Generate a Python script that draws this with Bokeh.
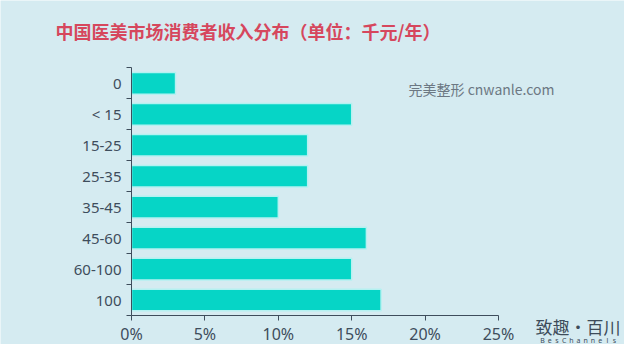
from bokeh.plotting import figure
from bokeh.models import Range1d, FixedTicker, NumeralTickFormatter, Label, ColumnDataSource
from bokeh.embed import file_html
from bokeh.resources import INLINE

categories = ["0", "< 15", "15-25", "25-35", "35-45", "45-60", "60-100", "100"]
shares = [0.03, 0.15, 0.12, 0.12, 0.10, 0.16, 0.15, 0.17]
x_ticks = [0, 0.05, 0.10, 0.15, 0.20, 0.25]
title_text = "中国医美市场消费者收入分布（单位：千元/年）"
watermark_text = "完美整形 cnwanle.com"
logo_text = "致趣·百川"
logo_sub = "BesChannels"

BG = "#D5EBF1"
AXIS = "#3E4D5C"
BAR = "#06D5C6"
BAR_EDGE = "#B4F1F1"

W, H = 624, 344
# plot area placement (pixels)
PX_LEFT, PX_RIGHT = 131, 498      # x = 0 and x = 25%
PX_TOP, PX_BOTTOM = 67.4, 315.0   # top of first band, bottom of last band
X_MAX = 0.25
n = len(categories)

px_per_x = (PX_RIGHT - PX_LEFT) / X_MAX
x_start = -PX_LEFT / px_per_x
x_end = X_MAX + (W - PX_RIGHT) / px_per_x
band = (PX_BOTTOM - PX_TOP) / n
y_top = -PX_TOP / band
y_bottom = n + (H - PX_BOTTOM) / band

centers = [i + 0.5 for i in range(n)]
bounds = list(range(n + 1))

src = ColumnDataSource(dict(y=centers, right=shares, cat=categories))

p = figure(width=W, height=H, output_backend="svg", toolbar_location=None,
           x_range=Range1d(x_start, x_end), y_range=Range1d(y_bottom, y_top),
           min_border=0,
           background_fill_color=BG, border_fill_color=BG, outline_line_color=None)

p.hbar(y="y", right="right", left=0, height=0.7, source=src,
       fill_color=BAR, line_color=BAR_EDGE, line_width=1.5)

p.xgrid.visible = False
p.ygrid.visible = False

# x axis
xa = p.xaxis[0]
xa.fixed_location = n
xa.bounds = (0, X_MAX)
xa.ticker = FixedTicker(ticks=x_ticks)
xa.formatter = NumeralTickFormatter(format="0%")
xa.axis_line_color = AXIS
xa.major_tick_line_color = AXIS
xa.major_tick_in = 0
xa.major_tick_out = 5
xa.minor_tick_line_color = None
xa.major_label_text_font = "Noto Sans"
xa.major_label_text_font_size = "16px"
xa.major_label_text_color = AXIS
xa.major_label_standoff = 2

# y axis
ya = p.yaxis[0]
ya.fixed_location = 0
ya.bounds = (0, n)
ya.ticker = FixedTicker(ticks=centers, minor_ticks=bounds)
ya.major_label_overrides = {c: name for c, name in zip(centers, categories)}
ya.axis_line_color = AXIS
ya.major_tick_line_color = None
ya.major_tick_in = 0
ya.major_tick_out = 5
ya.minor_tick_line_color = AXIS
ya.minor_tick_in = 0
ya.minor_tick_out = 5
ya.major_label_text_font = "Noto Sans"
ya.major_label_text_font_size = "15px"
ya.major_label_text_color = AXIS
ya.major_label_standoff = 5

# texts (screen units: x from left, y up from bottom of figure)
p.add_layout(Label(x=55, y=H - 30, x_units="screen", y_units="screen", text=title_text,
                   text_font="Noto Sans CJK SC", text_font_style="bold", text_font_size="18px",
                   text_color="#D6475D", text_baseline="middle"))
p.add_layout(Label(x=408, y=H - 88, x_units="screen", y_units="screen", text=watermark_text,
                   text_font="Noto Sans CJK SC", text_font_size="14px",
                   text_color="#6C7883", text_baseline="middle"))
p.add_layout(Label(x=535, y=H - 326, x_units="screen", y_units="screen", text=logo_text,
                   text_font="Noto Sans CJK SC", text_font_size="17px",
                   text_color="#3D4C5A", text_baseline="middle"))
for i, ch in enumerate(logo_sub):
    p.add_layout(Label(x=542 + i * 7.2, y=H - 340, x_units="screen", y_units="screen", text=ch,
                       text_font="Noto Sans", text_font_size="7px",
                       text_color="#3D4C5A", text_baseline="middle", text_align="center"))

open("out.html", "w").write(file_html(p, INLINE))
